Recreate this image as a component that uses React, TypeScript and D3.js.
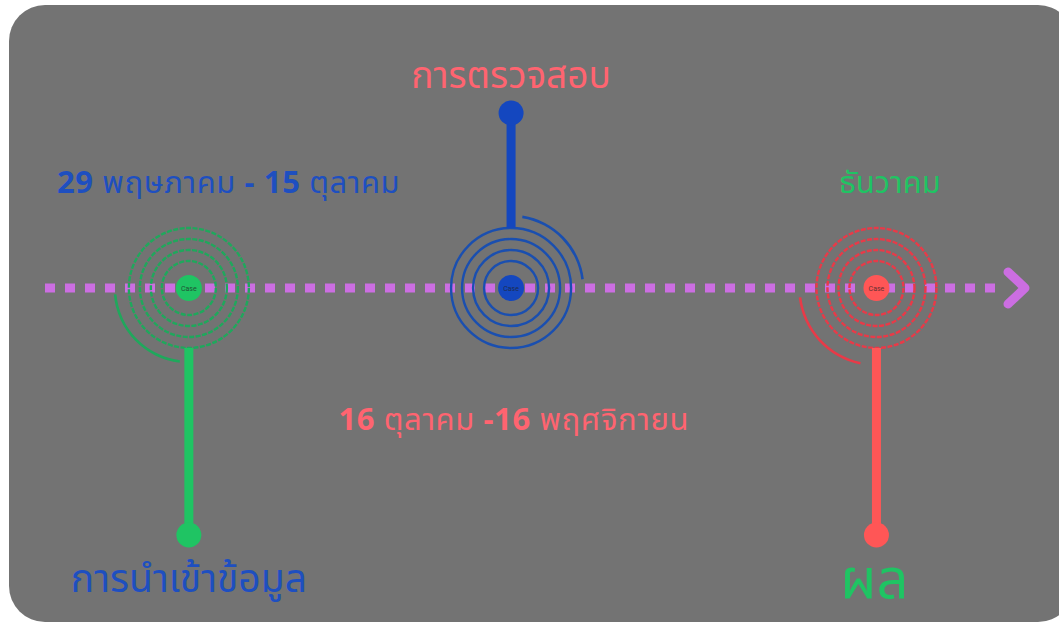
import React, { useEffect, useRef } from 'react';
import * as d3 from 'd3';

// phases along the timeline (position in % of the axis)
const phaseNames = ['การนำเข้าข้อมูล', 'การตรวจสอบ', 'ผล'];
const phasePos = [15.0, 48.6, 86.7];
const phaseDir = ['down', 'up', 'down'];
const phaseColors = ['#1fc463', '#1447bf', '#ff5656'];
const ringColors = ['#1fa85c', '#1a4fb0', '#e83a48'];
const labelColors = ['#1e4fc0', '#ff6470', '#1fc463'];
const labelSizes = [39, 37, 56];
const ringRadii = [27, 38, 49, 60];
// spiral tail [radius, start deg, end deg] in d3 arc angles
const tails: [number, number, number][] = [
  [74, 187, 265],
  [72, 9, 83],
  [77, 192, 263],
];

const dateTexts = [
  { parts: [['29', 700], [' พฤษภาคม ', 400], ['-', 700], [' 15', 700], [' ตุลาคม', 400]], pos: 1.25, row: 'top', color: '#1e4fc0', size: 31 },
  { parts: [['16', 700], [' ตุลาคม ', 400], ['-', 700], ['16', 700], [' พฤศจิกายน', 400]], pos: 30.6, row: 'bottom', color: '#ff6470', size: 31 },
  { parts: [['ธันวาคม', 400]], pos: 88.1, row: 'top', color: '#1fc463', size: 31 },
];

const W = 1059;
const H = 624;
const font = '"Noto Sans Thai", "Noto Sans", "DejaVu Sans", sans-serif';

const App: React.FC = () => {
  const svgRef = useRef<SVGSVGElement>(null);

  useEffect(() => {
    const svg = d3.select(svgRef.current);
    svg.selectAll('*').remove();

    const x = d3.scaleLinear().domain([0, 100]).range([45, 1004]);
    const axisY = 288;

    svg.append('rect')
      .attr('x', 9).attr('y', 5)
      .attr('width', 1065).attr('height', 617)
      .attr('rx', 36)
      .attr('fill', '#737373');

    // dotted axis
    svg.append('line')
      .attr('x1', x(0)).attr('x2', x(100))
      .attr('y1', axisY).attr('y2', axisY)
      .attr('stroke', '#cc6ee2')
      .attr('stroke-width', 9)
      .attr('stroke-dasharray', '10 10');

    svg.append('path')
      .attr('d', d3.line()([[x(100) + 4, axisY - 16], [x(100) + 21, axisY], [x(100) + 4, axisY + 16]]))
      .attr('fill', 'none')
      .attr('stroke', '#cc6ee2')
      .attr('stroke-width', 9)
      .attr('stroke-linecap', 'round')
      .attr('stroke-linejoin', 'round');

    phaseNames.forEach((name, i) => {
      const cx = x(phasePos[i]);
      const g = svg.append('g');
      const up = phaseDir[i] === 'up';
      const dashed = i !== 1 ? '5 1.5' : null;

      ringRadii.forEach(r => {
        g.append('circle')
          .attr('cx', cx).attr('cy', axisY).attr('r', r)
          .attr('fill', 'none')
          .attr('stroke', ringColors[i])
          .attr('stroke-width', 2.4)
          .attr('stroke-dasharray', dashed);
      });

      const [tr, a0, a1] = tails[i];
      g.append('path')
        .attr('transform', `translate(${cx},${axisY})`)
        .attr('d', d3.arc()({ innerRadius: tr - 1.3, outerRadius: tr + 1.3, startAngle: a0 * Math.PI / 180, endAngle: a1 * Math.PI / 180 }) as string)
        .attr('fill', ringColors[i]);

      // stem
      const stemStart = up ? axisY - ringRadii[ringRadii.length - 1] : axisY + ringRadii[ringRadii.length - 1];
      const stemEnd = up ? 113 : 535;
      g.append('line')
        .attr('x1', cx).attr('x2', cx)
        .attr('y1', stemStart).attr('y2', stemEnd)
        .attr('stroke', phaseColors[i])
        .attr('stroke-width', 9);
      g.append('circle')
        .attr('cx', cx).attr('cy', stemEnd).attr('r', 12.5)
        .attr('fill', phaseColors[i]);

      // centre dot
      g.append('circle')
        .attr('cx', cx).attr('cy', axisY).attr('r', 13)
        .attr('fill', phaseColors[i]);
      g.append('text')
        .attr('x', cx).attr('y', axisY + 2.5)
        .attr('text-anchor', 'middle')
        .attr('font-family', 'Roboto, sans-serif')
        .attr('font-size', 7)
        .attr('fill', '#222')
        .attr('opacity', 0.7)
        .text('Case');

      g.append('text')
        .attr('x', i === 2 ? cx - 2 : cx).attr('y', up ? 88 : (i === 0 ? 592 : 598))
        .attr('text-anchor', 'middle')
        .attr('font-family', font)
        .attr('font-size', labelSizes[i])
        .attr('fill', labelColors[i])
        .text(name);
    });

    dateTexts.forEach(d => {
      const t = svg.append('text')
        .attr('x', x(d.pos))
        .attr('y', d.row === 'top' ? 193 : 430)
        .attr('text-anchor', d.parts.length === 1 ? 'middle' : 'start')
        .attr('font-family', font)
        .attr('font-size', d.size)
        .attr('letter-spacing', d.parts.length === 1 ? 0 : 0.6)
        .attr('fill', d.color)
        .attr('xml:space', 'preserve');
      d.parts.forEach(([s, w]) => {
        t.append('tspan').attr('font-weight', w as number).text(s as string);
      });
    });
  }, []);

  return (
    <svg ref={svgRef} width={W} height={H}
      style={{ position: 'absolute', left: 0, top: 0, background: '#fff' }} />
  );
};

export default App;
